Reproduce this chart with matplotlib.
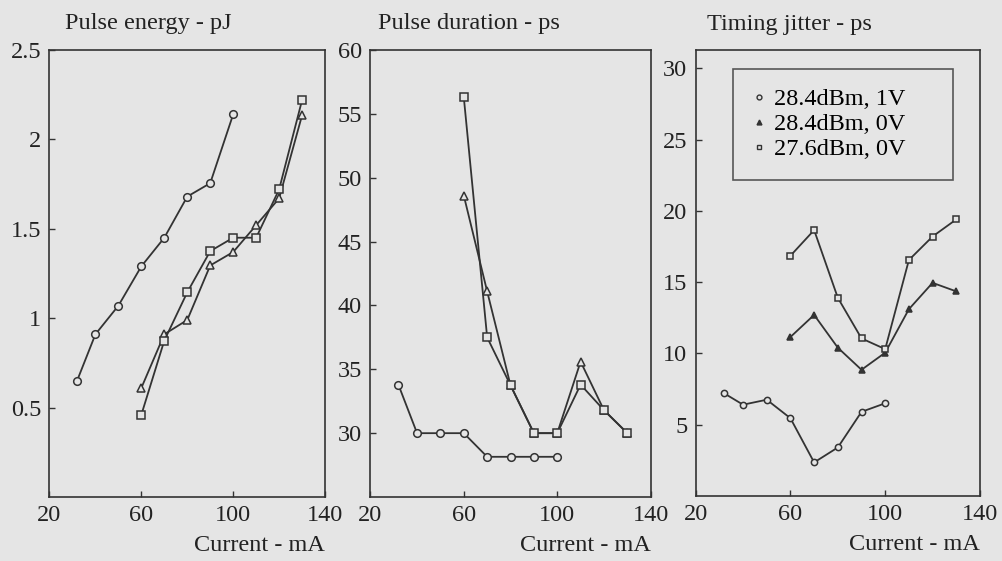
import matplotlib.pyplot as plt

# ================= DATA ================= #
CUR_1V = [32, 40, 50, 60, 70, 80, 90, 100]          # mA, 28.4dBm 1V
CUR_0V = [60, 70, 80, 90, 100, 110, 120, 130]       # mA, both 0V series

ENERGY_1V = [0.65, 0.91, 1.07, 1.29, 1.45, 1.68, 1.755, 2.14]
ENERGY_284_0V = [0.61, 0.91, 0.99, 1.295, 1.37, 1.52, 1.67, 2.135]
ENERGY_276_0V = [0.46, 0.875, 1.145, 1.375, 1.45, 1.45, 1.72, 2.22]

DURATION_1V = [33.8, 30.0, 30.0, 30.0, 28.15, 28.15, 28.15, 28.15]
DURATION_284_0V = [48.6, 41.1, 33.75, 30.0, 30.0, 35.6, 31.8, 30.0]
DURATION_276_0V = [56.3, 37.5, 33.75, 30.0, 30.0, 33.8, 31.8, 30.0]

JITTER_1V = [7.2, 6.4, 6.75, 5.45, 2.35, 3.4, 5.9, 6.5]
JITTER_284_0V = [11.15, 12.7, 10.4, 8.85, 10.05, 13.1, 14.95, 14.35]
JITTER_276_0V = [16.85, 18.65, 13.9, 11.05, 10.3, 16.55, 18.2, 19.4]

LABELS = ["28.4dBm, 1V", "28.4dBm, 0V", "27.6dBm, 0V"]
TITLES = ["Pulse energy - pJ", "Pulse duration - ps", "Timing jitter - ps"]
XTICKS = [20, 60, 100, 140]

# ================= STYLE ================= #
BG = "#e5e5e5"
INK = "#333333"
TXT = "#222222"
plt.rcParams["font.family"] = ["Liberation Serif", "DejaVu Serif"]
plt.rcParams["font.size"] = 17.5

fig = plt.figure(figsize=(10.02, 5.61), dpi=100, facecolor=BG)

boxes = [
    [0.0494, 0.114, 0.275, 0.797],
    [0.3696, 0.114, 0.2798, 0.797],
    [0.6943, 0.116, 0.2837, 0.794],
]
ylims = [(0, 2.5), (25, 60), (0, 31.25)]
yticks = [[0.5, 1, 1.5, 2, 2.5], [30, 35, 40, 45, 50, 55, 60], [5, 10, 15, 20, 25, 30]]
ylabels = [["0.5", "1", "1.5", "2", "2.5"], None, None]
data = [
    (ENERGY_1V, ENERGY_284_0V, ENERGY_276_0V),
    (DURATION_1V, DURATION_284_0V, DURATION_276_0V),
    (JITTER_1V, JITTER_284_0V, JITTER_276_0V),
]
title_x = [0.058, 0.028, 0.04]

axes = []
for i in range(3):
    ax = fig.add_axes(boxes[i], facecolor=BG)
    y1v, y284, y276 = data[i]
    ms = 5.5 if i < 2 else 4.5
    tri_fill = INK if i == 2 else BG
    ax.plot(CUR_1V, y1v, "-o", color=INK, lw=1.3, ms=ms, mfc=BG, mew=1.1,
            label=LABELS[0])
    ax.plot(CUR_0V, y284, "-^", color=INK, lw=1.3, ms=ms, mfc=tri_fill, mew=1.1,
            label=LABELS[1])
    ax.plot(CUR_0V, y276, "-s", color=INK, lw=1.3, ms=ms, mfc=BG, mew=1.1,
            label=LABELS[2])

    ax.set_xlim(20, 140)
    ax.set_ylim(*ylims[i])
    ax.set_xticks(XTICKS)
    ax.set_yticks(yticks[i])
    if ylabels[i]:
        ax.set_yticklabels(ylabels[i])
    ax.tick_params(direction="in", length=4, width=1, color=INK, labelcolor=TXT,
                   pad=6)
    for s in ax.spines.values():
        s.set_color(INK)
        s.set_linewidth(1.2)

    ax.set_xlabel("Current - mA", loc="right", labelpad=6, color=TXT)
    ax.text(title_x[i], 1.035, TITLES[i], transform=ax.transAxes,
            ha="left", va="bottom", color=TXT)
    axes.append(ax)

# legend only on the jitter panel, markers without lines
handles = [
    plt.Line2D([], [], ls="none", marker="o", ms=3.5, color=INK, mfc=BG, mew=1),
    plt.Line2D([], [], ls="none", marker="^", ms=3.5, color=INK, mfc=INK, mew=1),
    plt.Line2D([], [], ls="none", marker="s", ms=3.5, color=INK, mfc=BG, mew=1),
]
leg = axes[2].legend(handles, LABELS, loc="upper left",
                     bbox_to_anchor=(0.13, 0.959, 0.774, 0.0), mode="expand",
                     frameon=True, fancybox=False, borderpad=0.8,
                     handlelength=0.6, handletextpad=0.3, labelspacing=0.12,
                     borderaxespad=0)
leg.get_frame().set_edgecolor(INK)
leg.get_frame().set_linewidth(1.2)
leg.get_frame().set_facecolor(BG)

fig.savefig("out.png", dpi=100, facecolor=BG)
